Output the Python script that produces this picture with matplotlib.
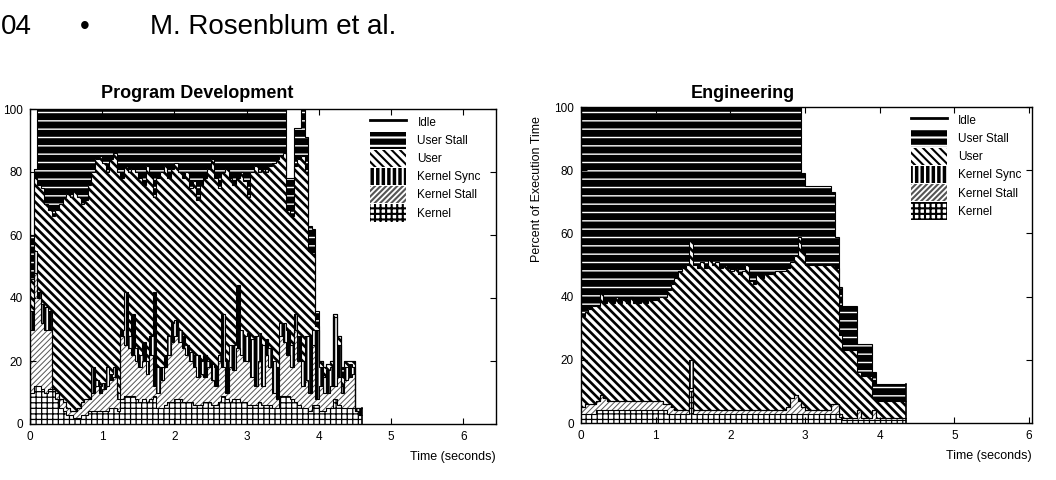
import numpy as np
import matplotlib
matplotlib.use('Agg')
import matplotlib.pyplot as plt
from matplotlib.patches import Patch
from matplotlib.lines import Line2D

plt.rcParams['font.family'] = ['Liberation Sans', 'DejaVu Sans']
plt.rcParams['hatch.linewidth'] = 1.5

bin_w = 0.05  # seconds per sample

# Program Development: percent of execution time per 0.05 s sample
dev_kernel = [10, 12, 12, 11, 10, 11, 11, 8, 5, 4,
              3, 3, 2, 2, 3, 3, 4, 4, 4, 4,
              4, 4, 5, 5, 4, 8, 9, 9, 9, 8,
              7, 8, 7, 8, 9, 5, 5, 6, 7, 7,
              8, 8, 7, 7, 7, 6, 6, 6, 7, 7,
              6, 6, 7, 9, 8, 7, 8, 8, 7, 7,
              6, 6, 6, 7, 6, 6, 6, 5, 5, 9,
              9, 9, 8, 7, 6, 5, 5, 4, 6, 6,
              4, 4, 5, 5, 8, 6, 5, 5, 5, 5,
              4, 3]
dev_kstall = [20, 36, 28, 21, 20, 19, 0, 2, 3, 3,
              2, 1, 2, 3, 4, 5, 4, 6, 8, 6,
              7, 8, 9, 10, 4, 20, 16, 15, 13, 12,
              11, 12, 9, 14, 3, 5, 9, 12, 15, 19,
              20, 18, 17, 15, 13, 12, 9, 10, 8, 11,
              8, 6, 13, 9, 2, 11, 9, 16, 15, 13,
              14, 9, 6, 13, 6, 16, 12, 5, 3, 19,
              17, 13, 10, 23, 14, 7, 9, 6, 19, 2,
              8, 6, 5, 7, 4, 9, 5, 9, 10, 11,
              0, 0]
dev_ksync = [6, 7, 2, 6, 7, 6, 0, 0, 0, 0,
             0, 0, 0, 0, 0, 0, 0, 8, 2, 2,
             2, 6, 2, 3, 2, 2, 17, 4, 13, 4,
             4, 6, 4, 6, 30, 8, 4, 4, 6, 6,
             5, 4, 4, 3, 3, 4, 7, 4, 7, 2,
             5, 6, 2, 17, 10, 7, 8, 20, 8, 8,
             9, 12, 16, 9, 13, 5, 6, 10, 10, 4,
             6, 8, 7, 5, 8, 8, 14, 18, 5, 22,
             6, 5, 7, 6, 22, 10, 2, 4, 4, 2,
             1, 2]
dev_user = [10, 23, 34, 37, 33, 32, 55, 58, 62, 65,
            68, 68, 70, 67, 63, 63, 68, 62, 70, 73,
            70, 62, 68, 68, 70, 48, 40, 52, 46, 56,
            56, 50, 62, 51, 30, 60, 62, 60, 50, 49,
            50, 50, 50, 55, 52, 55, 49, 56, 56, 61,
            65, 60, 53, 45, 61, 53, 51, 34, 50, 49,
            43, 53, 54, 51, 56, 53, 58, 63, 66, 53,
            54, 38, 41, 47, 56, 65, 52, 27, 24, 1,
            2, 3, 2, 2, 1, 3, 3, 2, 1, 2,
            0, 0]
dev_ustall = [14, 3, 24, 25, 30, 32, 34, 32, 30, 28,
              27, 28, 26, 28, 30, 29, 24, 20, 16, 15,
              17, 20, 16, 14, 20, 22, 18, 20, 19, 20,
              22, 24, 18, 21, 28, 22, 20, 18, 22, 19,
              17, 20, 22, 20, 25, 23, 29, 24, 22, 19,
              16, 22, 25, 20, 19, 22, 24, 22, 20, 23,
              28, 20, 18, 20, 19, 20, 18, 17, 16, 15,
              14, 10, 12, 12, 10, 15, 11, 8, 8, 5,
              0, 0, 0, 0, 0, 0, 3, 0, 0, 0,
              0, 0]

# Engineering
eng_kernel = [3, 3, 3, 3, 4, 4, 4, 4, 4, 4,
              4, 4, 4, 4, 4, 4, 4, 4, 4, 4,
              4, 4, 4, 3, 3, 3, 3, 3, 3, 10,
              3, 3, 3, 3, 3, 3, 3, 3, 3, 3,
              3, 3, 3, 3, 3, 3, 3, 3, 3, 3,
              3, 3, 3, 3, 3, 3, 3, 3, 3, 3,
              3, 3, 3, 3, 3, 3, 3, 3, 3, 2,
              1, 1, 1, 1, 1, 1, 1, 1, 1, 1,
              1, 1, 1, 1, 1, 1, 1]
eng_kstall = [2, 3, 3, 3, 3, 5, 4, 3, 3, 3,
              3, 3, 3, 3, 3, 3, 3, 3, 3, 3,
              3, 3, 2, 3, 2, 1, 1, 1, 1, 1,
              1, 1, 1, 1, 1, 1, 1, 1, 1, 1,
              1, 1, 1, 1, 1, 1, 1, 1, 1, 1,
              1, 1, 1, 1, 1, 2, 5, 6, 4, 2,
              1, 1, 1, 1, 1, 1, 1, 3, 3, 1,
              0.5, 0.5, 0.5, 0.5, 3, 0.5, 0.5, 0.5, 3, 0.5,
              0.5, 0.5, 0.5, 0.5, 0.5, 0.5, 0.5]
eng_ksync = [0, 0, 0, 0, 0, 0, 0, 0, 0, 0,
             0, 0, 0, 0, 0, 0, 0, 0, 0, 0,
             0, 0, 0, 0, 0, 0, 0, 0, 0, 9,
             0, 0, 0, 0, 0, 0, 0, 0, 0, 0,
             0, 0, 0, 0, 0, 0, 0, 0, 0, 0,
             0, 0, 0, 0, 0, 0, 0, 0, 0, 0,
             0, 0, 0, 0, 0, 0, 0, 0, 0, 0,
             0, 0, 0, 0, 0, 0, 0, 0, 0, 0,
             0, 0, 0, 0, 0, 0, 0]
eng_user = [29, 29, 30, 31, 30, 32, 30, 32, 31, 33,
            31, 32, 31, 33, 31, 31, 32, 31, 32, 32,
            32, 33, 34, 36, 39, 42, 44, 45, 46, 38,
            46, 45, 47, 45, 48, 46, 47, 45, 46, 45,
            44, 45, 43, 44, 46, 41, 40, 43, 42, 43,
            43, 43, 44, 44, 44, 44, 43, 44, 52, 49,
            46, 46, 46, 46, 46, 46, 46, 44, 43, 25,
            21.5, 21.5, 21.5, 21.5, 12, 13.5, 13.5, 13.5, 4, 5.5,
            5.5, 5.5, 5.5, 5.5, 5.5, 5.5, 5.5]
eng_ustall = [66, 65, 64, 63, 63, 59, 62, 61, 62, 60,
              62, 61, 62, 60, 62, 62, 61, 62, 61, 61,
              61, 60, 60, 58, 56, 54, 52, 51, 50, 42,
              50, 51, 49, 51, 48, 50, 49, 51, 50, 51,
              52, 51, 53, 52, 50, 55, 56, 53, 54, 53,
              53, 53, 52, 52, 52, 51, 49, 47, 41, 25,
              25, 25, 25, 25, 25, 25, 25, 23, 10, 15,
              14, 14, 14, 14, 9, 10, 10, 10, 8, 5.5,
              5.5, 5.5, 5.5, 5.5, 5.5, 5.5, 5.5]

labels = ['Idle', 'User Stall', 'User', 'Kernel Sync', 'Kernel Stall', 'Kernel']

# bottom -> top styles
sty_kernel = dict(facecolor='white', edgecolor='black', hatch='+++')
sty_kstall = dict(facecolor='white', edgecolor='#555555', hatch='//////')
sty_ksync = dict(facecolor='black', edgecolor='white', hatch='|||')
sty_user = dict(facecolor='white', edgecolor='black', hatch='\\\\\\\\')
sty_ustall = dict(facecolor='black', edgecolor='white', hatch='--')
hatch_lw = {'+++': 0.9, '//////': 0.7, '|||': 1.2, '\\\\\\\\': 1.9, '--': 1.0}


def draw_panel(ax, series):
    n = len(series[0][0])
    edges = np.arange(n + 1) * bin_w
    base = np.zeros(n)
    tops = []
    for vals, sty in series:
        top = base + np.array(vals, dtype=float)
        p = ax.stairs(top, edges, baseline=base, fill=True, linewidth=0, **sty)
        if hasattr(p, 'set_hatch_linewidth'):
            p.set_hatch_linewidth(hatch_lw[sty['hatch']])
        tops.append(top)
        base = top
    for top in tops:
        ax.stairs(top, edges, baseline=None, color='black', linewidth=0.8)
    # right edge of the data
    ax.plot([edges[-1], edges[-1]], [0, tops[-1][-1]], color='black', lw=1.2)


def legend_handles():
    hs = [Line2D([], [], color='black', lw=2)]
    for sty in [sty_ustall, sty_user, sty_ksync, sty_kstall, sty_kernel]:
        h = Patch(linewidth=0, **sty)
        if hasattr(h, 'set_hatch_linewidth'):
            h.set_hatch_linewidth(hatch_lw[sty['hatch']])
        hs.append(h)
    return hs


def style_axes(ax, xmax):
    ax.set_xlim(0, xmax)
    ax.set_ylim(0, 100)
    ax.set_xticks(range(0, 7))
    ax.set_yticks(range(0, 101, 20))
    ax.tick_params(direction='in', top=True, right=True, length=4,
                   labelsize=8.5, pad=5)
    for s in ax.spines.values():
        s.set_linewidth(1.0)
    ax.set_xlabel('Time (seconds)', loc='right', fontsize=9, labelpad=6)


fig = plt.figure(figsize=(10.56, 4.8), dpi=100)
W, H = 1056.0, 480.0

ax1 = fig.add_axes([30 / W, 1 - 424 / H, 466 / W, 315 / H])
draw_panel(ax1, [(dev_kernel, sty_kernel), (dev_kstall, sty_kstall),
                 (dev_ksync, sty_ksync), (dev_user, sty_user),
                 (dev_ustall, sty_ustall)])
style_axes(ax1, 6.45)

ax2 = fig.add_axes([581 / W, 1 - 423 / H, 451 / W, 316 / H])
draw_panel(ax2, [(eng_kernel, sty_kernel), (eng_kstall, sty_kstall),
                 (eng_ksync, sty_ksync), (eng_user, sty_user),
                 (eng_ustall, sty_ustall)])
style_axes(ax2, 6.04)

for ax, x0 in [(ax1, 0.730), (ax2, 0.732)]:
    leg = ax.legend(legend_handles(), labels, loc='upper left',
                    bbox_to_anchor=(x0, 0.985), frameon=False, fontsize=8.5,
                    handlelength=3.0, handleheight=1.9, labelspacing=0.05,
                    handletextpad=1.0, borderpad=0, borderaxespad=0)

fig.text(197 / W, 1 - 93 / H, 'Program Development', ha='center', va='center',
         fontsize=13, fontweight='bold')
fig.text(743 / W, 1 - 93 / H, 'Engineering', ha='center', va='center',
         fontsize=13, fontweight='bold')
fig.text(537 / W, 1 - 189 / H, 'Percent of Execution Time', rotation=90,
         ha='center', va='center', fontsize=9)

# running page header
fig.text(1 / W, 1 - 27 / H, '04', ha='left', va='center', fontsize=20)
fig.text(85 / W, 1 - 27 / H, '•', ha='center', va='center', fontsize=20)
fig.text(150 / W, 1 - 27 / H, 'M. Rosenblum et al.', ha='left', va='center',
         fontsize=20)

fig.savefig('out.png', dpi=100)
